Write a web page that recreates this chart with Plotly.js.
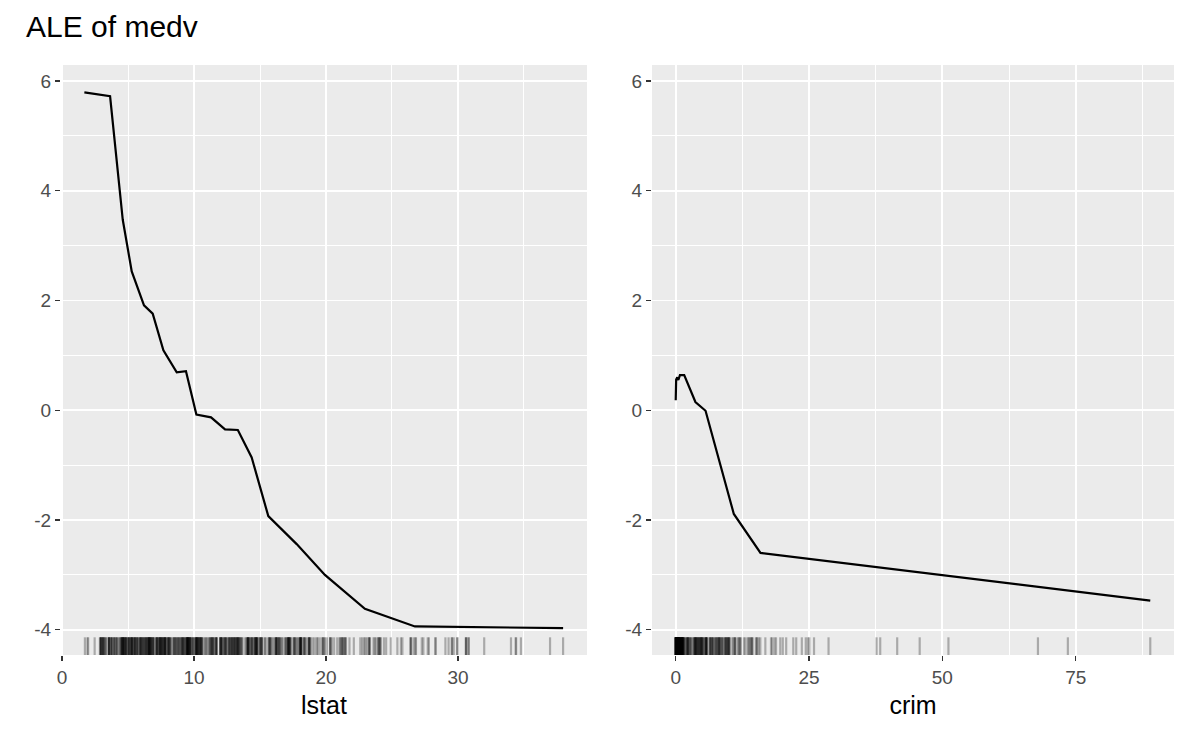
<!DOCTYPE html>
<html>
<head>
<meta charset="utf-8">
<script src="https://cdn.plot.ly/plotly-3.0.1.min.js"></script>
<style>html,body{margin:0;padding:0;background:#fff;}#chart{width:1200px;height:742px;}</style>
</head>
<body>
<div id="chart"></div>
<script>
// ALE curve for lstat
const lstatX = [1.69, 3.64, 4.6, 5.28, 6.21, 6.87, 7.68, 8.69, 9.39, 10.18, 11.29, 12.35, 13.32, 14.37, 15.63, 17.78, 19.92, 22.95, 26.74, 37.97];
const lstatALE = [5.79, 5.72, 3.47, 2.53, 1.91, 1.76, 1.09, 0.69, 0.71, -0.08, -0.13, -0.35, -0.36, -0.86, -1.93, -2.44, -3.0, -3.62, -3.94, -3.97];

// ALE curve for crim
const crimX = [0.006, 0.03, 0.09, 0.3, 0.5, 0.8, 1.6, 3.7, 5.6, 10.9, 15.9, 88.98];
const crimALE = [0.18, 0.5, 0.56, 0.6, 0.55, 0.64, 0.64, 0.15, -0.01, -1.89, -2.6, -3.47];

// observed lstat values (rug)
const lstatRug = [4.98, 9.14, 4.03, 2.94, 5.33, 5.21, 12.43, 19.15, 29.93, 17.10, 20.45, 13.27, 15.71, 8.26, 10.26, 8.47, 6.58, 14.67, 11.69, 11.28, 21.02, 13.83, 18.72, 19.88, 16.30, 16.51, 14.81, 17.28, 12.80, 11.98, 22.60, 13.04, 27.71, 18.35, 20.34, 9.68, 11.41, 8.77, 10.13, 4.32, 1.98, 4.84, 5.81, 7.44, 9.55, 10.21, 14.15, 18.80, 30.81, 16.20, 13.45, 9.43, 5.28, 8.43, 14.80, 4.81, 5.77, 3.95, 6.86, 9.22, 13.15, 14.44, 6.73, 9.50, 8.05, 4.67, 10.24, 8.10, 13.09, 8.79, 6.72, 9.88, 5.52, 7.54, 6.78, 8.94, 11.97, 10.27, 12.34, 9.10, 5.29, 7.22, 6.72, 7.51, 9.62, 6.53, 12.86, 8.44, 5.50, 5.70, 8.81, 8.20, 8.16, 6.21, 10.59, 6.65, 11.34, 4.21, 3.57, 6.19, 9.42, 7.67, 10.63, 13.44, 12.33, 16.47, 18.66, 14.09, 12.27, 15.55, 13.00, 10.16, 16.21, 17.09, 10.45, 15.76, 12.04, 10.30, 15.37, 13.61, 14.37, 14.27, 17.93, 25.41, 17.58, 14.81, 27.26, 17.19, 15.39, 18.34, 12.60, 12.26, 11.12, 15.03, 17.31, 16.96, 16.90, 14.59, 21.32, 18.46, 24.16, 34.41, 26.82, 26.42, 29.29, 27.80, 16.65, 29.53, 28.32, 21.45, 14.10, 13.28, 12.12, 15.79, 15.12, 15.02, 16.14, 4.59, 6.43, 7.39, 5.50, 1.73, 1.92, 3.32, 11.64, 9.81, 3.70, 12.14, 11.10, 11.32, 14.43, 12.03, 14.69, 9.04, 9.64, 5.33, 10.11, 6.29, 6.92, 5.04, 7.56, 9.45, 4.82, 5.68, 13.98, 13.15, 4.45, 6.68, 4.56, 5.39, 5.10, 4.69, 2.87, 5.03, 4.38, 2.97, 4.08, 8.61, 6.62, 4.56, 4.45, 7.43, 3.11, 3.81, 2.88, 10.87, 10.97, 18.06, 14.66, 23.09, 17.27, 23.98, 16.03, 9.38, 29.55, 9.47, 13.51, 9.69, 17.92, 10.50, 9.71, 21.46, 9.93, 7.60, 4.14, 4.63, 3.13, 6.36, 3.92, 3.76, 11.65, 5.25, 2.47, 3.95, 8.05, 10.88, 9.54, 4.73, 6.36, 7.37, 11.38, 12.40, 11.22, 5.19, 12.50, 18.46, 9.16, 10.15, 9.52, 6.56, 5.90, 3.59, 3.53, 3.54, 6.57, 9.25, 3.11, 5.12, 7.79, 6.90, 9.59, 7.26, 5.91, 11.25, 8.10, 10.45, 14.79, 7.44, 3.16, 13.65, 13.00, 6.59, 7.73, 6.58, 3.53, 2.98, 6.05, 4.16, 7.19, 4.85, 3.76, 4.59, 3.01, 3.16, 7.85, 8.23, 12.93, 7.14, 7.60, 9.51, 3.33, 3.56, 4.70, 8.58, 10.40, 6.27, 7.39, 15.84, 4.97, 4.74, 6.07, 9.50, 8.67, 4.86, 6.93, 8.93, 6.47, 7.53, 4.54, 9.97, 12.64, 5.98, 11.72, 7.90, 9.28, 11.50, 18.33, 15.94, 10.36, 12.73, 7.20, 6.87, 7.70, 11.74, 6.12, 5.08, 6.15, 12.79, 9.97, 7.34, 9.09, 12.43, 7.83, 5.68, 6.75, 8.01, 9.80, 10.56, 8.51, 9.74, 9.29, 5.49, 8.65, 7.18, 4.61, 10.53, 12.67, 6.36, 5.99, 5.89, 5.98, 5.49, 7.79, 4.50, 8.05, 5.57, 17.60, 13.27, 11.48, 12.67, 7.79, 14.19, 10.19, 14.64, 5.29, 7.12, 14.00, 13.33, 3.26, 3.73, 2.96, 9.53, 8.88, 34.77, 37.97, 13.44, 23.24, 21.24, 23.69, 21.78, 17.21, 21.08, 23.60, 24.56, 30.63, 30.81, 28.28, 31.99, 30.62, 20.85, 17.11, 18.76, 25.68, 15.17, 16.35, 17.12, 19.37, 19.92, 30.59, 29.97, 26.77, 20.32, 20.31, 19.77, 27.38, 22.98, 23.34, 12.13, 26.40, 19.78, 10.11, 21.22, 34.37, 20.08, 36.98, 29.05, 25.79, 26.64, 20.62, 22.74, 15.02, 15.70, 14.10, 23.29, 17.16, 24.39, 15.69, 14.52, 21.52, 24.08, 17.64, 19.69, 12.03, 16.22, 15.17, 23.27, 18.05, 26.45, 34.02, 22.88, 22.11, 19.52, 16.59, 18.85, 23.79, 23.98, 17.79, 16.44, 18.13, 19.31, 17.44, 17.73, 17.27, 16.74, 18.71, 18.13, 19.01, 16.94, 16.23, 14.70, 16.42, 14.65, 13.99, 10.29, 13.22, 14.13, 17.15, 21.32, 18.13, 14.76, 16.29, 12.87, 14.36, 11.66, 18.14, 24.10, 18.68, 24.91, 18.03, 13.11, 10.74, 7.74, 7.01, 10.42, 13.34, 10.58, 14.98, 11.45, 18.06, 23.97, 29.68, 18.07, 13.35, 12.01, 13.59, 17.60, 21.14, 14.10, 12.92, 15.10, 14.33, 9.67, 9.08, 5.64, 6.48, 7.88];

// observed crim values (rug)
const crimRug = [88.98, 73.53, 67.92, 51.14, 45.75, 41.53, 38.35, 37.66, 28.66, 25.94, 25.05, 24.80, 24.39, 23.65, 22.60, 22.05, 20.72, 20.08, 19.61, 18.81, 18.50, 18.08, 17.87, 16.81, 15.87, 15.58, 15.29, 15.18, 15.02, 14.42, 14.33, 14.24, 14.05, 13.91, 13.68, 13.52, 13.08, 12.80, 12.25, 12.05, 11.95, 11.81, 11.58, 11.16, 11.11, 11.09, 10.83, 10.67, 10.23, 10.06, 9.97, 9.92, 9.92, 9.82, 9.72, 9.60, 9.51, 9.39, 9.34, 9.33, 9.19, 8.98, 8.79, 8.72, 8.64, 8.49, 8.27, 8.25, 8.20, 8.15, 8.06, 7.99, 7.84, 7.75, 7.67, 7.53, 7.40, 7.37, 7.05, 7.02, 6.96, 6.80, 6.72, 6.65, 6.54, 6.44, 6.39, 6.29, 5.87, 5.82, 5.82, 5.73, 5.71, 5.69, 5.67, 5.58, 5.44, 5.29, 5.20, 5.09, 4.97, 4.90, 4.87, 4.84, 4.81, 4.75, 4.67, 4.56, 4.54, 4.42, 4.35, 4.26, 4.22, 4.10, 4.04, 4.04, 3.85, 3.84, 3.77, 3.69, 3.68, 3.67, 3.57, 3.54, 3.47, 3.32, 3.16, 2.92, 2.82, 2.73, 2.64, 2.45, 2.38, 2.31, 2.30, 2.24, 2.16, 2.15, 2.01, 1.83, 1.80, 1.63, 1.52, 1.46, 1.43, 1.41, 1.39, 1.35, 1.34, 1.27, 1.25, 1.23, 1.22, 1.19, 1.15, 1.13, 1.13, 1.02, 1.00, 0.99, 0.98, 0.96, 0.88, 0.85, 0.80, 0.78, 0.75, 0.73, 0.70, 0.67, 0.65, 0.63, 0.62, 0.60, 0.57, 0.55, 0.54, 0.52, 0.50, 0.48, 0.45, 0.44, 0.42, 0.40, 0.38, 0.37, 0.35, 0.34, 0.33, 0.31, 0.30, 0.29, 0.28, 0.27, 0.26, 0.25, 0.24, 0.23, 0.22, 0.21, 0.20, 0.19, 0.18, 0.17, 0.17, 0.16, 0.15, 0.15, 0.14, 0.14, 0.13, 0.13, 0.12, 0.12, 0.11, 0.11, 0.10, 0.10, 0.09, 0.09, 0.09, 0.08, 0.08, 0.08, 0.07, 0.07, 0.07, 0.06, 0.06, 0.06, 0.05, 0.05, 0.05, 0.04, 0.04, 0.04, 0.03, 0.03, 0.03, 0.02, 0.02, 0.01, 0.006];

const yTickVals = [-4, -2, 0, 2, 4, 6];
const yTickText = ['-4', '-2', '0', '2', '4', '6'];
const yMinorVals = [-3, -1, 1, 3, 5];
const lstatTicks = [0, 10, 20, 30];
const lstatMinor = [5, 15, 25, 35];
const crimTicks = [0, 25, 50, 75];
const crimMinor = [12.5, 37.5, 62.5, 87.5];

const W = 1200, H = 742;
const px = v => v / W;
const py = v => 1 - v / H;

const FONT = 'Liberation Sans, Arial, Helvetica, sans-serif';
const tickFont = {family: FONT, size: 19, color: '#4D4D4D'};
const titleFont = {family: FONT, size: 25, color: '#000000'};

function xAxis(domain, range, ticks, minorVals, title, anchor) {
  return {
    domain: domain, range: range, autorange: false, anchor: anchor,
    tickmode: 'array', tickvals: ticks, ticktext: ticks.map(String),
    ticks: 'outside', ticklen: 5, tickwidth: 1.3, tickcolor: '#333333',
    tickfont: tickFont, showgrid: true, gridcolor: '#FFFFFF', gridwidth: 1.8,
    minor: {tickmode: 'array', tickvals: minorVals, showgrid: true, gridcolor: '#FFFFFF', gridwidth: 1, ticks: ''},
    zeroline: false, showline: false, fixedrange: true,
    title: {text: title, font: titleFont, standoff: 9}
  };
}
function yAxis(anchor) {
  return {
    domain: [py(655), py(65)], range: [-4.46, 6.29], autorange: false,
    anchor: anchor,
    tickmode: 'array', tickvals: yTickVals, ticktext: yTickText,
    ticks: 'outside', ticklen: 5, tickwidth: 1.3, tickcolor: '#333333',
    tickfont: tickFont, showgrid: true, gridcolor: '#FFFFFF', gridwidth: 1.8,
    minor: {tickmode: 'array', tickvals: yMinorVals, showgrid: true, gridcolor: '#FFFFFF', gridwidth: 1, ticks: ''},
    zeroline: false, showline: false, fixedrange: true
  };
}

const xa1 = xAxis([px(61), px(587)], [-0.08, 39.78], lstatTicks, lstatMinor, 'lstat', 'y');
const xa2 = xAxis([px(652), px(1174)], [-4.44, 93.43], crimTicks, crimMinor, 'crim', 'y2');

const rugColor = 'rgba(0,0,0,0.28)';
const shapes = [];
lstatRug.forEach(v => shapes.push({type: 'line', xref: 'x', yref: 'y domain', x0: v, x1: v, y0: 0, y1: 0.03, line: {color: rugColor, width: 2.2}}));
crimRug.forEach(v => shapes.push({type: 'line', xref: 'x2', yref: 'y2 domain', x0: v, x1: v, y0: 0, y1: 0.03, line: {color: rugColor, width: 2.2}}));

const data = [
  {x: lstatX, y: lstatALE, type: 'scatter', mode: 'lines', xaxis: 'x', yaxis: 'y', line: {color: '#000000', width: 2.2}, hoverinfo: 'skip'},
  {x: crimX, y: crimALE, type: 'scatter', mode: 'lines', xaxis: 'x2', yaxis: 'y2', line: {color: '#000000', width: 2.2}, hoverinfo: 'skip'}
];

const layout = {
  width: W, height: H,
  margin: {l: 0, r: 0, t: 0, b: 0},
  paper_bgcolor: '#FFFFFF', plot_bgcolor: '#EBEBEB',
  showlegend: false,
  title: {text: 'ALE of medv', x: px(26), xanchor: 'left', xref: 'paper', y: py(26), yanchor: 'middle', yref: 'paper',
          font: {family: FONT, size: 30, color: '#000000'}},
  xaxis: xa1, yaxis: yAxis('x'),
  xaxis2: xa2, yaxis2: yAxis('x2'),
  shapes: shapes
};

Plotly.newPlot('chart', data, layout, {staticPlot: true, displayModeBar: false});
</script>
</body>
</html>
